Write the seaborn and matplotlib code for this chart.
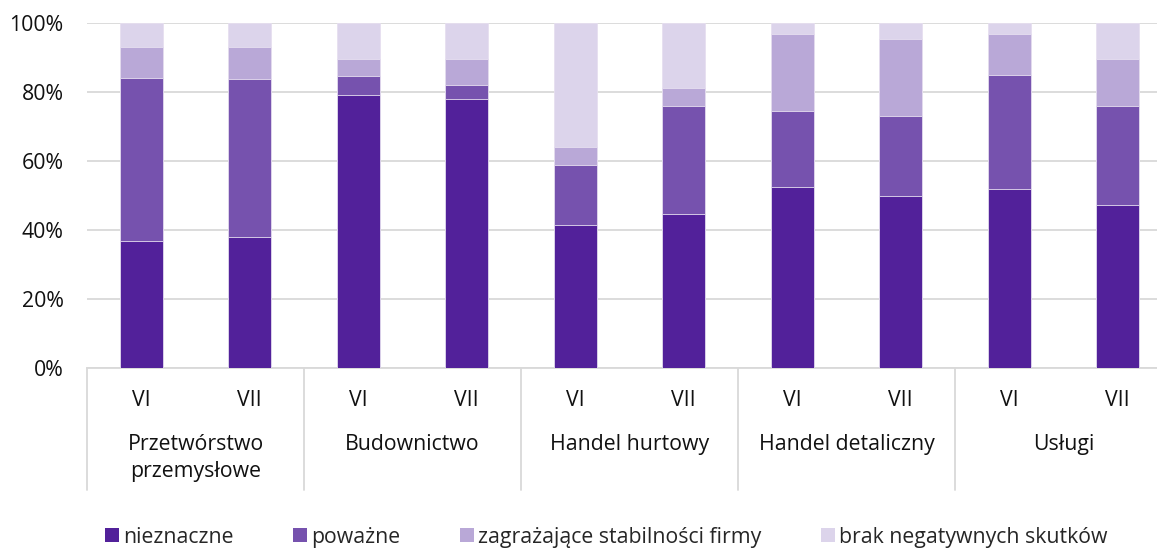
import numpy as np
import pandas as pd
import matplotlib
matplotlib.use("Agg")
import matplotlib.pyplot as plt
import matplotlib.transforms as mtransforms
from matplotlib.patches import Patch
import seaborn as sns

# dane (udział w %)
sektory = ["Przetwórstwo\nprzemysłowe", "Budownictwo", "Handel hurtowy",
           "Handel detaliczny", "Usługi"]
miesiace = ["VI", "VII"]

nieznaczne = [36.8, 38.0, 79.0, 78.1, 41.5, 44.5, 52.6, 50.0, 51.9, 47.3]
powazne    = [47.3, 45.9, 5.7, 3.8, 17.2, 31.3, 21.8, 22.9, 32.9, 28.5]
zagrazajace = [8.9, 9.0, 4.8, 7.6, 5.4, 5.4, 22.3, 22.4, 11.9, 13.9]
brak       = [7.0, 7.1, 10.5, 10.5, 35.9, 18.8, 3.3, 4.7, 3.3, 10.3]

serie = ["nieznaczne", "poważne", "zagrażające stabilności firmy",
         "brak negatywnych skutków"]
kolory = ["#52219A", "#7652AE", "#B9A8D7", "#DCD4EB"]

# tabela
slupki = [f"{s}|{m}" for s in sektory for m in miesiace]
df = pd.DataFrame({
    "slupek": slupki,
    "nieznaczne": nieznaczne,
    "poważne": powazne,
    "zagrażające stabilności firmy": zagrazajace,
    "brak negatywnych skutków": brak,
})
# sumy skumulowane -> słupki rysowane od najwyższego
cum = df[serie].cumsum(axis=1)

sns.set_theme(style="white")
plt.rcParams["font.family"] = ["Open Sans", "DejaVu Sans"]
FS = 15.3
TXT = "#111111"

fig = plt.figure(figsize=(11.57, 5.52), dpi=100)
ax = fig.add_axes([87 / 1157, 184 / 552, 1085 / 1157, 345 / 552])

for nazwa, kolor in reversed(list(zip(serie, kolory))):
    sns.barplot(x=df["slupek"], y=cum[nazwa], color=kolor, width=0.4,
                edgecolor="#E6DFF0", linewidth=0.6, saturation=1, ax=ax, zorder=3)

ax.set_ylim(0, 100)
ax.set_xlim(-0.5, len(slupki) - 0.5)
ax.set_yticks([0, 20, 40, 60, 80, 100])
ax.set_yticklabels([f"{v}%" for v in range(0, 101, 20)], fontsize=FS, color=TXT)
ax.yaxis.grid(True, color="#D9D9D9", linewidth=1.3, zorder=0)
ax.set_axisbelow(True)
ax.tick_params(axis="y", length=0, pad=17)
ax.tick_params(axis="x", length=0, pad=16)
ax.set_xticks(range(len(slupki)))
ax.set_xticklabels(miesiace * len(sektory), fontsize=FS, color=TXT)
ax.set_xlabel("")
ax.set_ylabel("")
for s in ["top", "right", "left"]:
    ax.spines[s].set_visible(False)
ax.spines["bottom"].set_color("#D9D9D9")
ax.spines["bottom"].set_linewidth(1.3)

# etykiety grup i linie rozdzielające
trans = mtransforms.blended_transform_factory(ax.transData, ax.transAxes)
for i, s in enumerate(sektory):
    ax.text(2 * i + 0.5, -0.19, s, transform=trans, ha="center", va="top",
            fontsize=FS, color=TXT, linespacing=1.4)
for xs in np.arange(-0.5, len(slupki), 2):
    ax.plot([xs, xs], [0, -0.355], transform=trans, color="#D9D9D9",
            linewidth=1.3, clip_on=False)

uchwyty = [Patch(facecolor=k, edgecolor="none") for k in kolory]
fig.legend(uchwyty, serie, loc="center", bbox_to_anchor=(0.524, 0.027),
           ncol=4, frameon=False, fontsize=FS, handlelength=0.65,
           handleheight=0.65, handletextpad=0.2, columnspacing=2.8)

plt.savefig("out.png", dpi=100)
